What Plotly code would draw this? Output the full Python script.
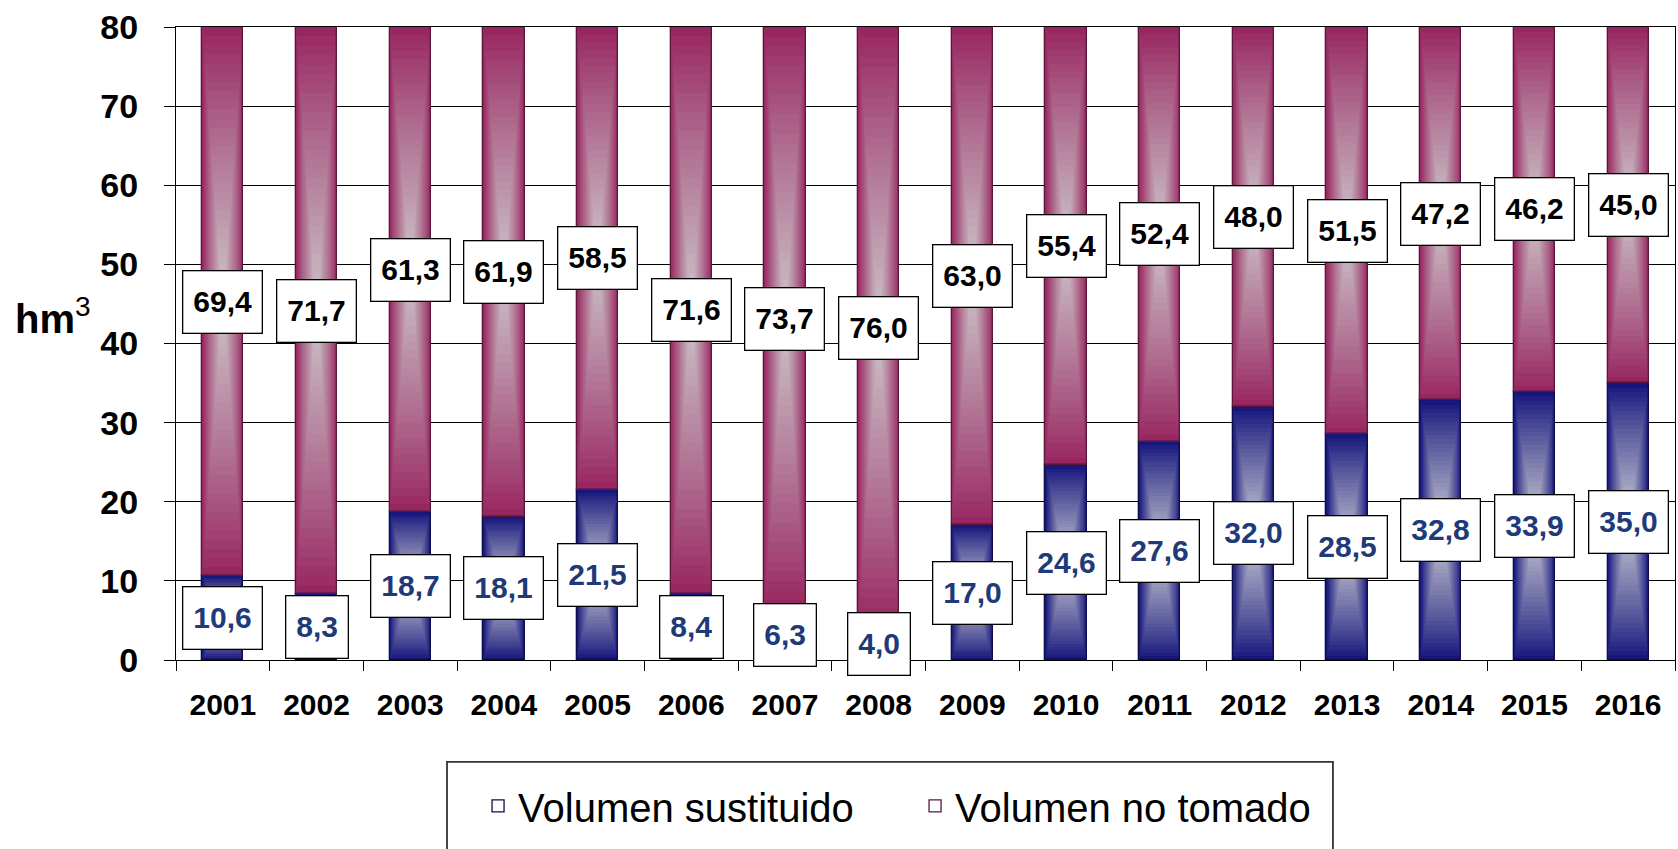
import plotly.graph_objects as go

# Volumes per year (hm3)
years = ["2001", "2002", "2003", "2004", "2005", "2006", "2007", "2008",
         "2009", "2010", "2011", "2012", "2013", "2014", "2015", "2016"]
volumen_sustituido = [10.6, 8.3, 18.7, 18.1, 21.5, 8.4, 6.3, 4.0,
                      17.0, 24.6, 27.6, 32.0, 28.5, 32.8, 33.9, 35.0]
volumen_no_tomado = [69.4, 71.7, 61.3, 61.9, 58.5, 71.6, 73.7, 76.0,
                     63.0, 55.4, 52.4, 48.0, 51.5, 47.2, 46.2, 45.0]
y_ticks = [0, 10, 20, 30, 40, 50, 60, 70, 80]

FONT = "Arial, 'Liberation Sans', sans-serif"
BAR_W = 0.44
STEPS = 30

series = [
    dict(name="Volumen sustituido", values=volumen_sustituido,
         dark=(22, 22, 125), light=(208, 208, 214), label_color="#1F3A78"),
    dict(name="Volumen no tomado", values=volumen_no_tomado,
         dark=(152, 38, 96), light=(205, 200, 204), label_color="#000000"),
]

def mix(c1, c2, t):
    return "rgb({},{},{})".format(*[round(a + (b - a) * t) for a, b in zip(c1, c2)])

fig = go.Figure()
annotations = []

starts = [0.0] * len(years)
for s in series:
    vals = s["values"]
    # "from centre" gradient: nested rectangles shrinking toward the segment centre
    for k in range(STEPS):
        f = k / STEPS
        fig.add_trace(go.Bar(
            x=years,
            y=[v * (1 - f) for v in vals],
            base=[b + v * f / 2 for b, v in zip(starts, vals)],
            width=BAR_W * (1 - f),
            marker=dict(color=mix(s["dark"], s["light"], f ** 0.9), line=dict(width=0)),
            showlegend=False, hoverinfo="skip",
        ))
    s["starts"] = list(starts)
    for i, (b, v) in enumerate(zip(starts, vals)):
        annotations.append(dict(
            x=i, y=b + v / 2, xref="x", yref="y",
            text=f"{v:.1f}".replace(".", ","), showarrow=False,
            font=dict(family=FONT, size=30, color=s["label_color"], weight="bold"),
            height=41, valign="middle",
            bgcolor="white", bordercolor="black", borderwidth=1.3, borderpad=10,
        ))
    starts = [b + v for b, v in zip(starts, vals)]

# segment outlines (also used as legend entries)
for s in series:
    fig.add_trace(go.Bar(
        x=years, y=s["values"], base=s["starts"], width=BAR_W, name=s["name"],
        marker=dict(color="rgba(255,255,255,0)",
                    line=dict(color=mix(s["dark"], (0, 0, 0), 0.4), width=1.3)),
        hoverinfo="skip",
    ))

annotations.append(dict(
    x=-0.1087, y=0.543, xref="paper", yref="paper", xanchor="left", yanchor="middle",
    text="<b>hm</b><sup>3</sup>", showarrow=False,
    font=dict(family=FONT, size=40, color="black"),
))

fig.update_layout(
    width=1678, height=849,
    margin=dict(l=176, r=3, t=27, b=189),
    paper_bgcolor="white", plot_bgcolor="white",
    barmode="overlay", bargap=0,
    annotations=annotations,
    shapes=[dict(type="rect", xref="paper", yref="paper",
                 x0=0.1808, x1=0.7718, y0=-0.161, y1=-0.33,
                 line=dict(color="#333333", width=1.8), fillcolor="rgba(0,0,0,0)")],
    legend=dict(orientation="h", x=0.2015, xanchor="left", y=-0.2306, yanchor="middle",
                font=dict(family=FONT, size=40, color="black"),
                entrywidth=392, bgcolor="rgba(0,0,0,0)", traceorder="normal"),
    xaxis=dict(
        type="category", categoryorder="array", categoryarray=years,
        range=[-0.5, len(years) - 0.5],
        showline=True, linecolor="black", linewidth=1.3, mirror=True,
        ticks="outside", tickson="boundaries", ticklen=10, tickcolor="black", tickwidth=1.3,
        tickfont=dict(family=FONT, size=30, color="black", weight="bold"),
        tickangle=0, ticklabelstandoff=18, showgrid=False,
    ),
    yaxis=dict(
        range=[0, 80], tickvals=y_ticks, showline=True, linecolor="black", linewidth=1.3,
        mirror=True, ticks="outside", ticklen=11, tickcolor="black", tickwidth=1.3,
        tickfont=dict(family=FONT, size=34, color="black", weight="bold"),
        ticklabelstandoff=19, showgrid=True, gridcolor="black", gridwidth=1.3,
        zeroline=False,
    ),
)

fig.write_html("out.html")
